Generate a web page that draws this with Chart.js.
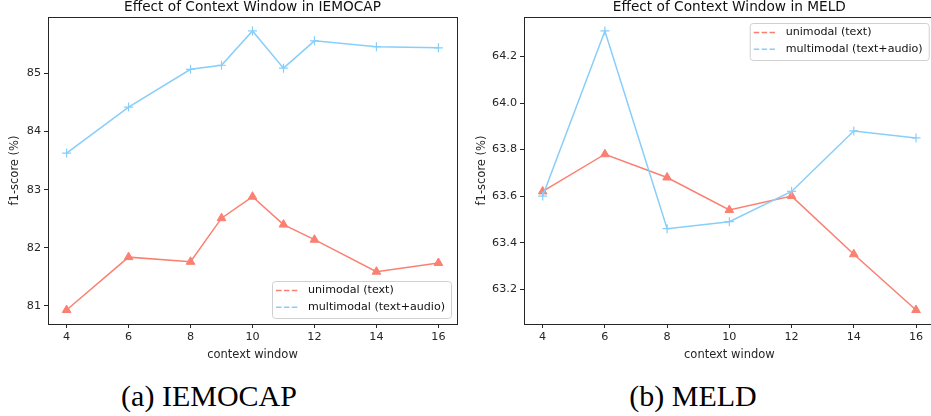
<!DOCTYPE html>
<html>
<head>
<meta charset="utf-8">
<script src="https://cdn.jsdelivr.net/npm/chart.js@4.4.1/dist/chart.umd.min.js"></script>
<style>
  body { margin: 0; background: #fff; width: 931px; height: 416px; overflow: hidden; position: relative; }
  .pane { position: absolute; top: 0; height: 362px; }
  #leftPane { left: 0; width: 470px; }
  #rightPane { left: 470px; width: 475px; }
  .cap { position: absolute; top: 379px; font-family: "Liberation Serif", serif; font-size: 30px; color: #000;
         transform: translateX(-50%); white-space: nowrap; }
</style>
</head>
<body>
<div class="pane" id="leftPane"><canvas id="iemocapChart" width="470" height="362"></canvas></div>
<div class="pane" id="rightPane"><canvas id="meldChart" width="475" height="362"></canvas></div>
<div class="cap" style="left:209px">(a) IEMOCAP</div>
<div class="cap" style="left:693px">(b) MELD</div>

<script>
// --- data ---
const LEGEND_LABELS = ['unimodal (text)', 'multimodal (text+audio)'];
const X_TICKS = [4, 6, 8, 10, 12, 14, 16];

const IEMOCAP_X = [4, 6, 8, 9, 10, 11, 12, 14, 16];
const IEMOCAP_TEXT = [80.93, 81.84, 81.76, 82.51, 82.88, 82.40, 82.14, 81.59, 81.74];
const IEMOCAP_AUDIO = [83.63, 84.42, 85.07, 85.14, 85.73, 85.09, 85.56, 85.46, 85.44];
const IEMOCAP_Y_TICKS = [81, 82, 83, 84, 85];

const MELD_X = [4, 6, 8, 10, 12, 14, 16];
const MELD_TEXT = [63.62, 63.78, 63.68, 63.54, 63.60, 63.35, 63.11];
const MELD_AUDIO = [63.60, 64.31, 63.46, 63.49, 63.62, 63.88, 63.85];
const MELD_Y_TICKS = [63.2, 63.4, 63.6, 63.8, 64.0, 64.2];

const RED = '#fa8072';
const BLUE = '#87cefa';
const FONT = '"DejaVu Sans", sans-serif';
const INK = '#262626';

// frame, title and legend drawn the matplotlib way
const decor = {
  id: 'decor',
  afterDraw(chart, args, o) {
    const { ctx, chartArea: a } = chart;
    ctx.save();
    ctx.strokeStyle = INK;
    ctx.lineWidth = 1;
    ctx.strokeRect(Math.round(a.left) + 0.5, Math.round(a.top) + 0.5,
                   Math.round(a.right - a.left), Math.round(a.bottom - a.top));

    ctx.fillStyle = '#111';
    ctx.font = '13.7px ' + FONT;
    ctx.textAlign = 'center';
    ctx.textBaseline = 'alphabetic';
    ctx.fillText(o.title, (a.left + a.right) / 2, 11);

    ctx.font = '11.1px ' + FONT;
    const textW = Math.max(...LEGEND_LABELS.map(t => ctx.measureText(t).width));
    const w = 36 + textW + 6, h = 37;
    const x = a.right - 6 - w;
    const y = o.legend === 'upper' ? a.top + 6 : a.bottom - 6 - h;
    ctx.beginPath();
    ctx.roundRect(x + 0.5, y + 0.5, w, h, 3);
    ctx.fillStyle = 'rgba(255,255,255,0.8)';
    ctx.fill();
    ctx.strokeStyle = '#d0d0d0';
    ctx.stroke();

    const colors = [RED, BLUE];
    LEGEND_LABELS.forEach((t, i) => {
      const cy = y + 9.5 + i * 16.7;
      ctx.beginPath();
      ctx.setLineDash([5.5, 2.4]);
      ctx.strokeStyle = colors[i];
      ctx.lineWidth = 1.5;
      ctx.moveTo(x + 4, cy);
      ctx.lineTo(x + 26, cy);
      ctx.stroke();
      ctx.setLineDash([]);
      ctx.fillStyle = '#111';
      ctx.textAlign = 'left';
      ctx.textBaseline = 'middle';
      ctx.fillText(t, x + 36, cy);
    });
    ctx.restore();
  }
};

function series(xs, ys) {
  return xs.map((x, i) => ({ x, y: ys[i] }));
}

function makeChart(id, cfg) {
  return new Chart(document.getElementById(id).getContext('2d'), {
    type: 'line',
    data: {
      datasets: [
        {
          label: LEGEND_LABELS[0],
          data: series(cfg.x, cfg.text),
          borderColor: RED, backgroundColor: RED,
          borderWidth: 1.5, pointStyle: 'triangle', pointRadius: 5,
          pointBorderWidth: 1, tension: 0, order: 2,
        },
        {
          label: LEGEND_LABELS[1],
          data: series(cfg.x, cfg.audio),
          borderColor: BLUE, backgroundColor: BLUE,
          borderWidth: 1.5, pointStyle: 'cross', pointRadius: 4.5,
          pointBorderWidth: 1.2, tension: 0, order: 1,
        },
      ],
    },
    options: {
      responsive: false,
      devicePixelRatio: 1,
      animation: false,
      layout: { padding: { top: 17, right: cfg.padRight, left: 0, bottom: 0 } },
      plugins: {
        legend: { display: false },
        tooltip: { enabled: false },
        decor: { title: cfg.title, legend: cfg.legend },
      },
      scales: {
        x: {
          type: 'linear',
          min: 3.4, max: 16.6,
          afterBuildTicks: s => { s.ticks = X_TICKS.map(v => ({ value: v })); },
          afterFit: s => { s.height = 38; },
          grid: { drawOnChartArea: false, drawTicks: true, tickLength: 4, color: INK },
          border: { display: false },
          ticks: { color: INK, font: { family: FONT, size: 11.2 }, padding: 2, maxRotation: 0, callback: v => v },
          title: { display: true, text: 'context window', color: INK, font: { family: FONT, size: 11.5 }, padding: { top: 1, bottom: 0 } },
        },
        y: {
          min: cfg.yMin, max: cfg.yMax,
          afterBuildTicks: s => { s.ticks = cfg.yTicks.map(v => ({ value: v })); },
          afterFit: s => { s.width = cfg.axisW; },
          grid: { drawOnChartArea: false, drawTicks: true, tickLength: 4, color: INK },
          border: { display: false },
          ticks: { color: INK, font: { family: FONT, size: 11.2 }, padding: 3, callback: cfg.fmt },
          title: { display: true, text: 'f1-score (%)', color: INK, font: { family: FONT, size: 11.5 }, padding: { top: cfg.titlePad, bottom: 0 } },
        },
      },
    },
    plugins: [decor],
  });
}

makeChart('iemocapChart', {
  title: 'Effect of Context Window in IEMOCAP',
  x: IEMOCAP_X, text: IEMOCAP_TEXT, audio: IEMOCAP_AUDIO,
  yMin: 80.69, yMax: 85.97, yTicks: IEMOCAP_Y_TICKS,
  fmt: v => v, axisW: 48, padRight: 13, titlePad: 8, legend: 'lower',
});

makeChart('meldChart', {
  title: 'Effect of Context Window in MELD',
  x: MELD_X, text: MELD_TEXT, audio: MELD_AUDIO,
  yMin: 63.05, yMax: 64.37, yTicks: MELD_Y_TICKS,
  fmt: v => Number(v).toFixed(1), axisW: 54, padRight: 10.3, titlePad: 5, legend: 'upper',
});
</script>
</body>
</html>
